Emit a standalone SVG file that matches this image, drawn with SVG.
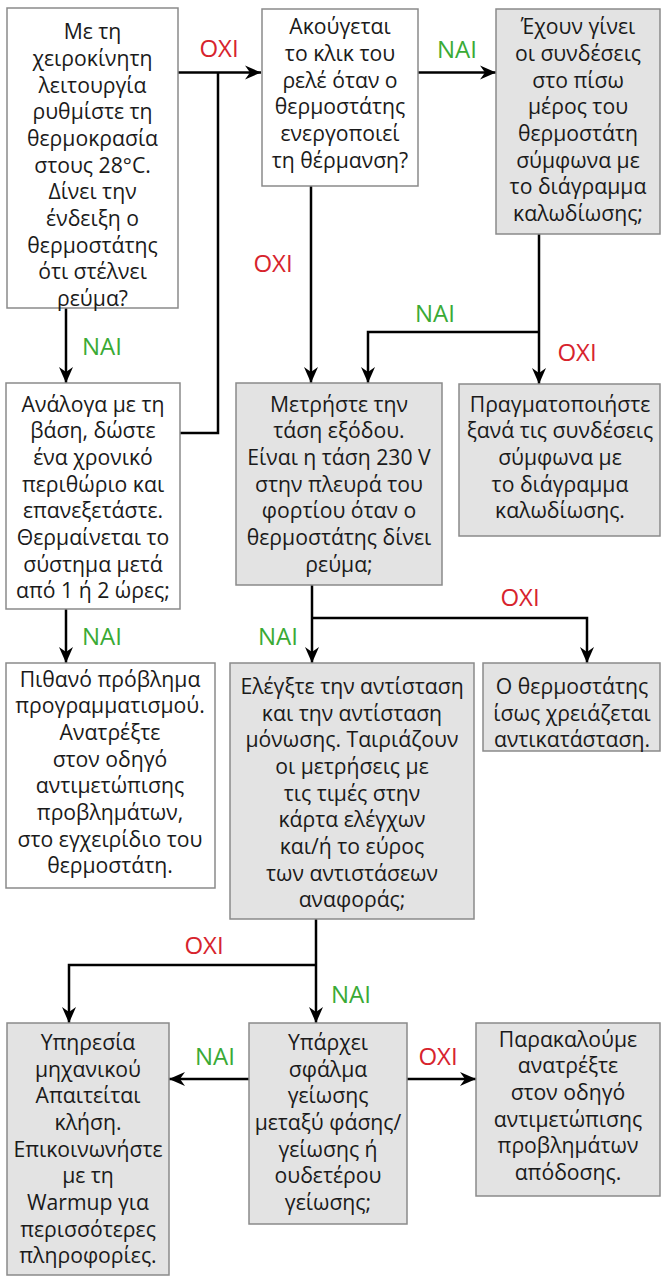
<svg xmlns="http://www.w3.org/2000/svg" width="661" height="1276" viewBox="0 0 661 1276">
<defs>
<style>
.bw{fill:#ffffff;stroke:#8a8a8a;stroke-width:1.5}
.bg{fill:#e3e3e3;stroke:#8a8a8a;stroke-width:1.5}
.t{font-family:"Open Sans","Noto Sans","DejaVu Sans",sans-serif;font-size:21.2px;fill:#1a1a1a;text-anchor:middle}
.no{font-family:"Open Sans","Noto Sans","DejaVu Sans",sans-serif;font-size:24px;fill:#d7232d;text-anchor:middle}
.yes{font-family:"Open Sans","Noto Sans","DejaVu Sans",sans-serif;font-size:24px;fill:#3aaa35;text-anchor:middle}
.c{fill:none;stroke:#000;stroke-width:2.5}
</style>
<marker id="ah" markerUnits="userSpaceOnUse" viewBox="-16 -8 17 16" refX="0" refY="0" markerWidth="17" markerHeight="16" orient="auto">
<path d="M0,0 L-16,-7 L-11,0 L-16,7 Z" fill="#000"/>
</marker>
</defs>

<g id="connectors">
<path class="c" d="M178,72.5 H261" marker-end="url(#ah)"/>
<path class="c" d="M180,433 H218 V72.5"/>
<path class="c" d="M418,72.5 H496" marker-end="url(#ah)"/>
<path class="c" d="M311,186 V383" marker-end="url(#ah)"/>
<path class="c" d="M539,234 V384" marker-end="url(#ah)"/>
<path class="c" d="M539,332 H368 V383" marker-end="url(#ah)"/>
<path class="c" d="M66,308 V383" marker-end="url(#ah)"/>
<path class="c" d="M66,609 V663" marker-end="url(#ah)"/>
<path class="c" d="M312,585 V663" marker-end="url(#ah)"/>
<path class="c" d="M312,618 H587 V663" marker-end="url(#ah)"/>
<path class="c" d="M316,919 V1023" marker-end="url(#ah)"/>
<path class="c" d="M316,965 H69 V1023" marker-end="url(#ah)"/>
<path class="c" d="M249,1079 H169" marker-end="url(#ah)"/>
<path class="c" d="M407,1079 H476" marker-end="url(#ah)"/>
<text class="no" x="219" y="57">ΟΧΙ</text>
<text class="yes" x="457" y="57.5">ΝΑΙ</text>
<text class="no" x="273" y="271.5">ΟΧΙ</text>
<text class="yes" x="435" y="321.5">ΝΑΙ</text>
<text class="no" x="577" y="361">ΟΧΙ</text>
<text class="yes" x="102" y="355">ΝΑΙ</text>
<text class="yes" x="102" y="645">ΝΑΙ</text>
<text class="yes" x="278" y="645">ΝΑΙ</text>
<text class="no" x="520" y="606">ΟΧΙ</text>
<text class="no" x="204" y="954">ΟΧΙ</text>
<text class="yes" x="351" y="1003">ΝΑΙ</text>
<text class="yes" x="215" y="1065">ΝΑΙ</text>
<text class="no" x="438" y="1065">ΟΧΙ</text>
</g>

<g id="n1">
<rect class="bw" x="7" y="8" width="171" height="300"/>
<text class="t" x="92.5" y="39.3">Με τη<tspan x="92.5" dy="26.67">χειροκίνητη</tspan><tspan x="92.5" dy="26.67">λειτουργία</tspan><tspan x="92.5" dy="26.67">ρυθμίστε τη</tspan><tspan x="92.5" dy="26.67">θερμοκρασία</tspan><tspan x="92.5" dy="26.67">στους 28°C.</tspan><tspan x="92.5" dy="26.67">Δίνει την</tspan><tspan x="92.5" dy="26.67">ένδειξη ο</tspan><tspan x="92.5" dy="26.67">θερμοστάτης</tspan><tspan x="92.5" dy="26.67">ότι στέλνει</tspan><tspan x="92.5" dy="26.67">ρεύμα?</tspan></text>
</g>

<g id="n2">
<rect class="bw" x="262" y="9" width="156" height="177"/>
<text class="t" x="340" y="34.3">Ακούγεται<tspan x="340" dy="26.67">το κλικ του</tspan><tspan x="340" dy="26.67">ρελέ όταν ο</tspan><tspan x="340" dy="26.67">θερμοστάτης</tspan><tspan x="340" dy="26.67">ενεργοποιεί</tspan><tspan x="340" dy="26.67">τη θέρμανση?</tspan></text>
</g>

<g id="n3">
<rect class="bg" x="496" y="9" width="164" height="225"/>
<text class="t" x="578" y="34.3">Έχουν γίνει<tspan x="578" dy="26.67">οι συνδέσεις</tspan><tspan x="578" dy="26.67">στο πίσω</tspan><tspan x="578" dy="26.67">μέρος του</tspan><tspan x="578" dy="26.67">θερμοστάτη</tspan><tspan x="578" dy="26.67">σύμφωνα με</tspan><tspan x="578" dy="26.67">το διάγραμμα</tspan><tspan x="578" dy="26.67">καλωδίωσης;</tspan></text>
</g>

<g id="n4">
<rect class="bw" x="6" y="383" width="174" height="226"/>
<text class="t" x="93" y="411.7">Ανάλογα με τη<tspan x="93" dy="26.67">βάση, δώστε</tspan><tspan x="93" dy="26.67">ένα χρονικό</tspan><tspan x="93" dy="26.67">περιθώριο και</tspan><tspan x="93" dy="26.67">επανεξετάστε.</tspan><tspan x="93" dy="26.67">Θερμαίνεται το</tspan><tspan x="93" dy="26.67">σύστημα μετά</tspan><tspan x="93" dy="26.67">από 1 ή 2 ώρες;</tspan></text>
</g>

<g id="n5">
<rect class="bg" x="236" y="383" width="206" height="202"/>
<text class="t" x="339" y="411.7">Μετρήστε την<tspan x="339" dy="26.67">τάση εξόδου.</tspan><tspan x="339" dy="26.67">Είναι η τάση 230 V</tspan><tspan x="339" dy="26.67">στην πλευρά του</tspan><tspan x="339" dy="26.67">φορτίου όταν ο</tspan><tspan x="339" dy="26.67">θερμοστάτης δίνει</tspan><tspan x="339" dy="26.67">ρεύμα;</tspan></text>
</g>

<g id="n6">
<rect class="bg" x="459" y="384" width="201" height="152"/>
<text class="t" x="560" y="411.7">Πραγματοποιήστε<tspan x="560" dy="26.67">ξανά τις συνδέσεις</tspan><tspan x="560" dy="26.67">σύμφωνα με</tspan><tspan x="560" dy="26.67">το διάγραμμα</tspan><tspan x="560" dy="26.67">καλωδίωσης.</tspan></text>
</g>

<g id="n7">
<rect class="bw" x="6" y="663" width="209" height="225"/>
<text class="t" x="110" y="686.7">Πιθανό πρόβλημα<tspan x="110" dy="26.67">προγραμματισμού.</tspan><tspan x="110" dy="26.67">Ανατρέξτε</tspan><tspan x="110" dy="26.67">στον οδηγό</tspan><tspan x="110" dy="26.67">αντιμετώπισης</tspan><tspan x="110" dy="26.67">προβλημάτων,</tspan><tspan x="110" dy="26.67">στο εγχειρίδιο του</tspan><tspan x="110" dy="26.67">θερμοστάτη.</tspan></text>
</g>

<g id="n8">
<rect class="bg" x="230" y="663" width="244" height="256"/>
<text class="t" x="352" y="694">Ελέγξτε την αντίσταση<tspan x="352" dy="26.67">και την αντίσταση</tspan><tspan x="352" dy="26.67">μόνωσης. Ταιριάζουν</tspan><tspan x="352" dy="26.67">οι μετρήσεις με</tspan><tspan x="352" dy="26.67">τις τιμές στην</tspan><tspan x="352" dy="26.67">κάρτα ελέγχων</tspan><tspan x="352" dy="26.67">και/ή το εύρος</tspan><tspan x="352" dy="26.67">των αντιστάσεων</tspan><tspan x="352" dy="26.67">αναφοράς;</tspan></text>
</g>

<g id="n9">
<rect class="bg" x="483" y="663" width="177" height="88"/>
<text class="t" x="572" y="694">Ο θερμοστάτης<tspan x="572" dy="26.67">ίσως χρειάζεται</tspan><tspan x="572" dy="26.67">αντικατάσταση.</tspan></text>
</g>

<g id="n10">
<rect class="bg" x="7" y="1023" width="162" height="252"/>
<text class="t" x="88" y="1050">Υπηρεσία<tspan x="88" dy="26.67">μηχανικού</tspan><tspan x="88" dy="26.67">Απαιτείται</tspan><tspan x="88" dy="26.67">κλήση.</tspan><tspan x="88" dy="26.67">Επικοινωνήστε</tspan><tspan x="88" dy="26.67">με τη</tspan><tspan x="88" dy="26.67">Warmup για</tspan><tspan x="88" dy="26.67">περισσότερες</tspan><tspan x="88" dy="26.67">πληροφορίες.</tspan></text>
</g>

<g id="n11">
<rect class="bg" x="249" y="1023" width="158" height="201"/>
<text class="t" x="328" y="1050">Υπάρχει<tspan x="328" dy="26.67">σφάλμα</tspan><tspan x="328" dy="26.67">γείωσης</tspan><tspan x="328" dy="26.67">μεταξύ φάσης/</tspan><tspan x="328" dy="26.67">γείωσης ή</tspan><tspan x="328" dy="26.67">ουδετέρου</tspan><tspan x="328" dy="26.67">γείωσης;</tspan></text>
</g>

<g id="n12">
<rect class="bg" x="476" y="1023" width="184" height="173"/>
<text class="t" x="568" y="1046.7">Παρακαλούμε<tspan x="568" dy="26.67">ανατρέξτε</tspan><tspan x="568" dy="26.67">στον οδηγό</tspan><tspan x="568" dy="26.67">αντιμετώπισης</tspan><tspan x="568" dy="26.67">προβλημάτων</tspan><tspan x="568" dy="26.67">απόδοσης.</tspan></text>
</g>
</svg>
